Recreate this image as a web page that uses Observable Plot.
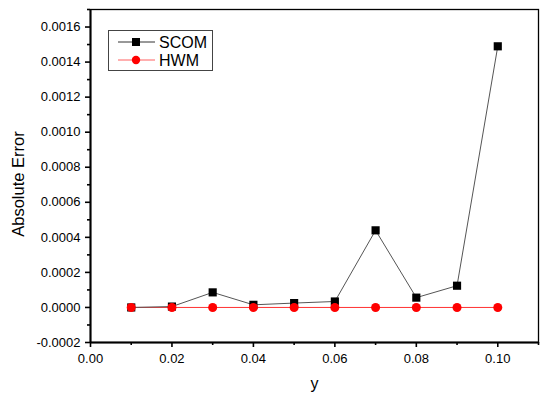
<!DOCTYPE html>
<html>
<head>
<meta charset="utf-8">
<script src="https://cdn.jsdelivr.net/npm/d3@7"></script>
<script src="https://cdn.jsdelivr.net/npm/@observablehq/plot@0.6"></script>
<style>
  html, body { margin: 0; padding: 0; background: #fff; }
  #chart { width: 550px; height: 399px; }
  svg { font-family: "Liberation Sans", Arial, sans-serif; }
</style>
</head>
<body>
<div id="chart"></div>
<script>
const xValues = [0.01, 0.02, 0.03, 0.04, 0.05, 0.06, 0.07, 0.08, 0.09, 0.10];
const scomValues = [0.0, 0.000005, 0.000086, 0.000015, 0.000025, 0.000034, 0.00044, 0.000056, 0.000124, 0.00149];
const hwmValues = [0, 0, 0, 0, 0, 0, 0, 0, 0, 0];
const seriesNames = ["SCOM", "HWM"];
const xTicks = [0, 0.02, 0.04, 0.06, 0.08, 0.10];
const xMinorTicks = [0.01, 0.03, 0.05, 0.07, 0.09, 0.11];
const yTicks = [-0.0002, 0, 0.0002, 0.0004, 0.0006, 0.0008, 0.0010, 0.0012, 0.0014, 0.0016];
const yMinorTicks = [-0.0001, 0.0001, 0.0003, 0.0005, 0.0007, 0.0009, 0.0011, 0.0013, 0.0015, 0.0017];

const scom = xValues.map((x, i) => ({x, y: scomValues[i], s: seriesNames[0]}));
const hwm = xValues.map((x, i) => ({x, y: hwmValues[i], s: seriesNames[1]}));

const plot = Plot.plot({
  width: 550,
  height: 399,
  marginLeft: 90,
  marginRight: 12,
  marginTop: 9,
  marginBottom: 57,
  style: {fontFamily: "Liberation Sans, Arial, sans-serif", fontSize: "13px", color: "#000", background: "#fff"},
  x: {domain: [0, 0.11]},
  y: {domain: [-0.0002, 0.0017]},
  marks: [
    Plot.frame({stroke: "#000", strokeWidth: 1.3}),
    Plot.axisY({ticks: yMinorTicks, tickSize: 3, text: null, label: null, strokeWidth: 1.6}),
    Plot.axisY({ticks: yTicks, tickSize: 5, tickPadding: 5, strokeWidth: 1.6, tickFormat: d => d.toFixed(4), fontSize: 13, label: "Absolute Error", labelAnchor: "center", labelArrow: "none", labelOffset: 78}),
    Plot.axisX({ticks: xMinorTicks, tickSize: 3, text: null, label: null, strokeWidth: 1.6}),
    Plot.axisX({ticks: xTicks, tickSize: 5, tickPadding: 6, strokeWidth: 1.6, tickFormat: d => d.toFixed(2), fontSize: 13, label: "y", labelAnchor: "center", labelArrow: "none", labelOffset: 46}),
    Plot.ruleY([-0.0002], {stroke: "#000", strokeWidth: 2}),
    Plot.ruleX([0], {stroke: "#000", strokeWidth: 2}),
    Plot.line(hwm, {x: "x", y: "y", stroke: "#ff3030", strokeWidth: 1}),
    Plot.line(scom, {x: "x", y: "y", stroke: "#555", strokeWidth: 1}),
    Plot.dot(scom, {x: "x", y: "y", symbol: "square", r: 4.6, fill: "#000", stroke: "none"}),
    Plot.dot(hwm, {x: "x", y: "y", symbol: "circle", r: 4.5, fill: "#ff0000", stroke: "none"})
  ]
});

document.getElementById("chart").appendChild(plot);

const svg = d3.select(plot);
svg.selectAll("[aria-label='y-axis label'] text").attr("font-size", 16.5).attr("dx", -8);
svg.selectAll("[aria-label='x-axis label'] text").attr("font-size", 16);

// Legend box drawn in SVG
const lg = svg.append("g").attr("font-family", "Liberation Sans, Arial, sans-serif").attr("text-anchor", "start");
lg.append("rect").attr("x", 108.5).attr("y", 30.5).attr("width", 104).attr("height", 40)
  .attr("fill", "#fff").attr("stroke", "#444").attr("stroke-width", 1);
const legendItems = [
  {name: seriesNames[0], line: "#333", color: "#000", shape: "square", cy: 42},
  {name: seriesNames[1], line: "#ff6060", color: "#ff0000", shape: "circle", cy: 60}
];
legendItems.forEach(it => {
  lg.append("line").attr("x1", 118).attr("x2", 155).attr("y1", it.cy).attr("y2", it.cy)
    .attr("stroke", it.line).attr("stroke-width", 1);
  if (it.shape === "square") {
    lg.append("rect").attr("x", 132).attr("y", it.cy - 4).attr("width", 8).attr("height", 8).attr("fill", it.color);
  } else {
    lg.append("circle").attr("cx", 136).attr("cy", it.cy).attr("r", 4.2).attr("fill", it.color);
  }
  lg.append("text").attr("x", 159).attr("y", it.cy).attr("dy", "0.35em").attr("font-size", 16)
    .attr("text-anchor", "start").attr("fill", "#000").text(it.name);
});
</script>
</body>
</html>
